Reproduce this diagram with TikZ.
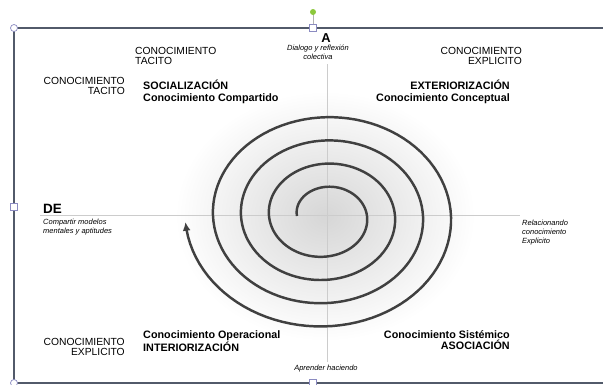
\documentclass[tikz,border=0pt]{standalone}
\usepackage{fontspec}
\setmainfont{Liberation Sans}
\usetikzlibrary{arrows.meta}
\definecolor{framegray}{RGB}{82,90,106}
\definecolor{handlegreen}{RGB}{140,200,60}

\begin{document}
\begin{tikzpicture}
[x = 0.03cm, y = -0.03cm,
frame/.style = {draw = framegray, line width = 1.6pt},
handle/.style = {draw = blue!30!gray!70, fill = white, line width = 0.6pt},
axis/.style = {draw = gray!40, line width = 0.6pt},
spiral/.style = {draw = black!75, line width = 2.1pt},
capsbox/.style = {inner sep = 0, font = \fontsize{8.8}{9}\selectfont},
stagebox/.style = {inner sep = 0, font = \fontsize{9.2}{10}\selectfont\bfseries},
notebox/.style = {inner sep = 0, font = \fontsize{6.4}{7.6}\selectfont\itshape},
]
\useasboundingbox (0,0) rectangle (603,385);
\fill[white] (0,0) rectangle (603,385);
\shade[inner color = black!16, outer color = white] (325,216) ellipse [x radius = 150, y radius = 125];
\coordinate (west) at (40,215);
\coordinate (east) at (520,215);
\coordinate (north) at (327,64);
\coordinate (south) at (327,362);
\draw[axis] (west) -- (east);
\draw[axis] (north) -- (south);
\draw[spiral, -{Latex[length = 2.6mm, width = 2.4mm]}] plot [domain = 180:1617, samples = 400, variable = \t]
({325 + (\t + 180)/360*28*cos(\t)}, {216 + 0.83*(\t + 180)/360*28*sin(\t)});
\node [capsbox, anchor = north west, align = left] (tacitotop) at (135,47) {CONOCIMIENTO\\TACITO};
\node [capsbox, anchor = north east, align = right] (tacitoleft) at (125,77) {CONOCIMIENTO\\TACITO};
\node [capsbox, anchor = north east, align = right] (explicitotop) at (522,47) {CONOCIMIENTO\\EXPLICITO};
\node [capsbox, anchor = north east, align = right] (explicitoleft) at (125,338) {CONOCIMIENTO\\EXPLICITO};
\node [stagebox, anchor = north west, align = left] (socializacion) at (143,80) {SOCIALIZACIÓN\\Conocimiento Compartido};
\node [stagebox, anchor = north east, align = right] (exteriorizacion) at (510,80) {EXTERIORIZACIÓN\\Conocimiento Conceptual};
\node [stagebox, anchor = north west, align = left] (interiorizacion) at (143,330) {Conocimiento Operacional\\INTERIORIZACIÓN};
\node [stagebox, anchor = north east, align = right] (asociacion) at (510,330) {Conocimiento Sistémico\\ASOCIACIÓN};
\node [inner sep = 0, anchor = north, font = \fontsize{11}{11}\selectfont\bfseries] (a) at (326,33) {A};
\node [notebox, anchor = north, align = center] (dialogo) at (318,45) {Dialogo y reflexión\\colectiva};
\node [inner sep = 0, anchor = north west, font = \fontsize{11.5}{11.5}\selectfont\bfseries] (de) at (43,204) {DE};
\node [notebox, anchor = north west, align = left] (compartir) at (43,219) {Compartir modelos\\mentales y aptitudes};
\node [notebox, anchor = north west, align = left] (relacionando) at (522,220) {Relacionando\\conocimiento\\Explicito};
\node [notebox, anchor = center] (aprender) at (326,369) {Aprender haciendo};
\draw[frame] (603,28) -- (14,28) -- (14,383) -- (603,383);
\draw[draw = gray!60] (313,14) -- (313,28);
\fill[handlegreen] (313,12) circle [radius = 3];
\draw[handle] (14,28) circle [radius = 3.5];
\draw[handle] (14,383) circle [radius = 3.5];
\draw[handle] (10.5,203.5) rectangle (17.5,210.5);
\draw[handle] (309.5,24.5) rectangle (316.5,31.5);
\draw[handle] (309.5,379.5) rectangle (316.5,386.5);
\end{tikzpicture}
\end{document}
